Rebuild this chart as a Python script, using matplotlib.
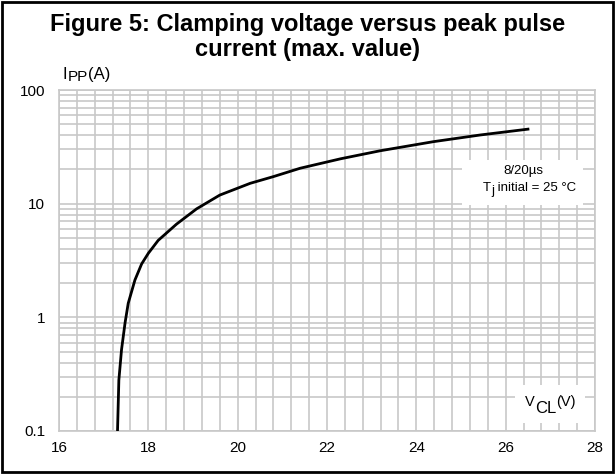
import numpy as np
import matplotlib
matplotlib.use("Agg")
import matplotlib.pyplot as plt
from matplotlib.patches import Rectangle
from matplotlib.ticker import FixedLocator, NullFormatter

plt.rcParams['font.family'] = ['Liberation Sans', 'DejaVu Sans']

# clamping voltage (V) vs peak pulse current (A)
vcl = [17.31, 17.34, 17.40, 17.48, 17.55, 17.70, 17.85, 18.00, 18.22, 18.63, 19.08,
       19.60, 20.28, 20.80, 21.40, 22.30, 23.19, 24.38, 25.43, 26.53]
ipp = [0.10, 0.28, 0.52, 0.90, 1.33, 2.13, 2.95, 3.66, 4.75, 6.6, 9.0,
       11.9, 15.1, 17.3, 20.5, 24.8, 29.2, 35.1, 40.2, 45.4]

x_ticks = [16, 18, 20, 22, 24, 26, 28]
y_ticks = [0.1, 1, 10, 100]
y_labels = ['0.1', '1', '10', '100']

W, H = 615, 474
fig = plt.figure(figsize=(W / 100, H / 100), dpi=100)
ax = fig.add_axes([59 / W, 1 - 431 / H, 536 / W, 341 / H])

grid_col = '#c8c8c8'
ax.plot(vcl, ipp, color='black', lw=2.0, zorder=5, solid_capstyle='butt')
ax.set_yscale('log')
ax.set_xlim(16, 28)
ax.set_ylim(0.1, 100)

ax.set_xticks(x_ticks)
ax.set_xticklabels([str(t) for t in x_ticks])
ax.xaxis.set_minor_locator(FixedLocator(np.arange(16, 28.01, 0.4)))
ax.set_yticks(y_ticks)
ax.set_yticklabels(y_labels)
minors = [m * d for d in (0.1, 1, 10) for m in range(2, 10)]
ax.yaxis.set_minor_locator(FixedLocator(minors))
ax.yaxis.set_minor_formatter(NullFormatter())
ax.tick_params(which='both', length=0, labelsize=11, colors='black')
ax.tick_params(axis='x', pad=7)
ax.tick_params(axis='y', pad=10)
ax.grid(which='both', color=grid_col, lw=1.2)
ax.set_axisbelow(True)
for s in ax.spines.values():
    s.set_color(grid_col)
    s.set_linewidth(1.2)

renderer = fig.canvas.get_renderer()


def pieces(x_px, y_px, parts, zorder=7):
    # draw text pieces one after another, each with its own size and baseline shift (px)
    x = x_px
    for txt, size, dy in parts:
        t = fig.text(x / W, 1 - (y_px - dy) / H, txt, fontsize=size,
                     ha='left', va='baseline', zorder=zorder)
        x += t.get_window_extent(renderer).width


# white boxes behind the in-plot labels
fig.patches.append(Rectangle((462 / W, 1 - 205 / H), 121 / W, 45 / H, transform=fig.transFigure,
                             facecolor='white', edgecolor='none', zorder=6))
fig.patches.append(Rectangle((515 / W, 1 - 423 / H), 70 / W, 38 / H, transform=fig.transFigure,
                             facecolor='white', edgecolor='none', zorder=6))

fig.text(523 / W, 1 - 174 / H, '8/20\u00b5s', fontsize=9.5, ha='center', va='baseline', zorder=7)
pieces(483, 191, [('T', 9.5, 0), ('j', 9.5, -3), (' initial = 25 \u00b0C', 9.5, 0)])

pieces(525, 413, [('V', 10.5, 7), ('CL', 12, 0), ('(V)', 10.5, 7)])
pieces(63, 79, [('I', 12, 0), ('PP', 11, -2), ('(A)', 12, 0)])

fig.text(0.5, 1 - 37 / H, 'Figure 5: Clamping voltage versus peak pulse\ncurrent (max. value)',
         ha='center', va='center', fontsize=17, fontweight='bold', linespacing=1.12)

fig.patches.append(Rectangle((0.004, 0.004), 0.992, 0.992, transform=fig.transFigure,
                             fill=False, edgecolor='black', lw=2))

fig.savefig('out.png', dpi=100)
